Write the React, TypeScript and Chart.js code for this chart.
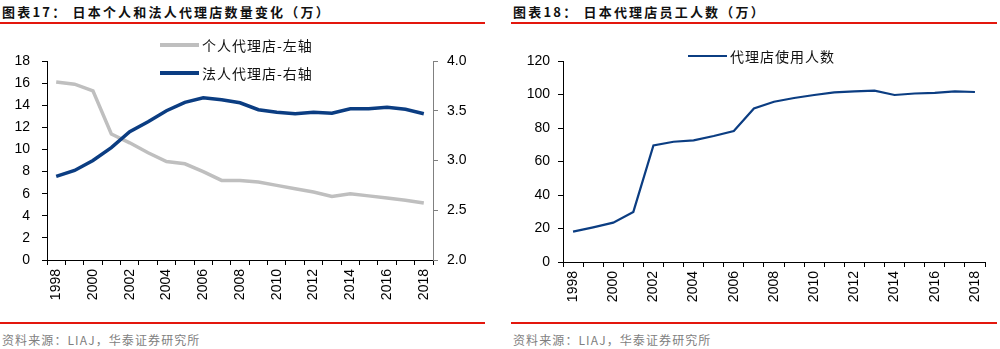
import React, { useEffect, useRef } from "react";
import { Chart, registerables } from "chart.js";

Chart.register(...registerables);

const years = [
  "1998", "1999", "2000", "2001", "2002", "2003", "2004", "2005", "2006", "2007", "2008",
  "2009", "2010", "2011", "2012", "2013", "2014", "2015", "2016", "2017", "2018",
];
const individualAgencies = [16.1, 15.9, 15.3, 11.4, 10.6, 9.7, 8.9, 8.7, 8.0, 7.2, 7.2, 7.05, 6.75, 6.45, 6.15, 5.75, 6.0, 5.8, 5.6, 5.4, 5.15];
const corporateAgencies = [2.84, 2.9, 3.0, 3.13, 3.29, 3.39, 3.5, 3.585, 3.63, 3.61, 3.58, 3.51, 3.485, 3.47, 3.485, 3.475, 3.52, 3.52, 3.535, 3.515, 3.47];
const agencyEmployees = [18.1, 20.7, 23.5, 29.9, 69.6, 71.8, 72.6, 75.2, 78.2, 91.7, 95.7, 97.9, 99.7, 101.3, 101.9, 102.3, 99.7, 100.6, 101.0, 101.9, 101.5];

const leftTicks = { min: 0, max: 18, step: 2 };
const rightTicks = { min: 2, max: 4, step: 0.5 };
const employeeTicks = { min: 0, max: 120, step: 20 };

const GRAY = "#BFBFBF";
const NAVY = "#0B3D82";
const RED = "#E3170D";
const CJK = '"Noto Sans CJK SC", "Noto Sans", sans-serif';
const TICK_FONT = { family: '"Liberation Sans", Arial, sans-serif', size: 14 };

function xAxis(height: number) {
  return {
    type: "category" as const,
    offset: true,
    afterFit: (s: any) => { s.height = height; },
    grid: { offset: true, drawOnChartArea: false, drawTicks: true, tickLength: 5, color: "#000" },
    border: { display: true, color: "#000", width: 1 },
    ticks: {
      autoSkip: false,
      minRotation: 90,
      maxRotation: 90,
      padding: 4,
      color: "#000",
      font: TICK_FONT,
      callback: (_v: any, i: number) => (i % 2 === 0 ? years[i] : ""),
    },
  };
}

function yAxis(pos: "left" | "right", t: { min: number; max: number; step: number }, width: number, pad: number, borderColor: string, decimals: number) {
  return {
    position: pos,
    min: t.min,
    max: t.max,
    afterFit: (s: any) => { s.width = width; },
    grid: { drawOnChartArea: false, drawTicks: true, tickLength: 5, color: borderColor },
    border: { display: true, color: borderColor, width: 1 },
    ticks: {
      stepSize: t.step,
      padding: pad,
      color: "#000",
      font: TICK_FONT,
      callback: (v: any) => Number(v).toFixed(decimals),
    },
  };
}

function LeftChart() {
  const ref = useRef<HTMLCanvasElement>(null);
  useEffect(() => {
    const chart = new Chart(ref.current!, {
      type: "line",
      data: {
        labels: years,
        datasets: [
          {
            label: "个人代理店-左轴",
            data: individualAgencies,
            borderColor: GRAY,
            borderWidth: 3.5,
            pointRadius: 0,
            tension: 0,
            yAxisID: "y",
            order: 1,
          },
          {
            label: "法人代理店-右轴",
            data: corporateAgencies,
            borderColor: NAVY,
            borderWidth: 3.5,
            pointRadius: 0,
            tension: 0,
            yAxisID: "y1",
            order: 0,
          },
        ],
      },
      options: {
        animation: false,
        responsive: false,
        maintainAspectRatio: false,
        layout: { padding: { top: 61, left: 0, right: 0, bottom: 0 } },
        plugins: { legend: { display: false }, tooltip: { enabled: false } },
        scales: {
          x: xAxis(60),
          y: yAxis("left", leftTicks, 47, 12, "#000", 0),
          y1: yAxis("right", rightTicks, 57, 9, "#808080", 1),
        } as any,
      },
    });
    return () => chart.destroy();
  }, []);
  return <canvas ref={ref} width={490} height={320} style={{ position: "absolute", left: 0, top: 0, width: 490, height: 320 }} />;
}

function RightChart() {
  const ref = useRef<HTMLCanvasElement>(null);
  useEffect(() => {
    const chart = new Chart(ref.current!, {
      type: "line",
      data: {
        labels: years,
        datasets: [
          {
            label: "代理店使用人数",
            data: agencyEmployees,
            borderColor: NAVY,
            borderWidth: 2.2,
            pointRadius: 0,
            tension: 0,
          },
        ],
      },
      options: {
        animation: false,
        responsive: false,
        maintainAspectRatio: false,
        layout: { padding: { top: 61, left: 0, right: 15, bottom: 0 } },
        plugins: { legend: { display: false }, tooltip: { enabled: false } },
        scales: {
          x: xAxis(58),
          y: yAxis("left", employeeTicks, 63, 8, "#000", 0),
        } as any,
      },
    });
    return () => chart.destroy();
  }, []);
  return <canvas ref={ref} width={500} height={320} style={{ position: "absolute", left: 500, top: 0, width: 500, height: 320 }} />;
}

const abs = (s: React.CSSProperties): React.CSSProperties => ({ position: "absolute", ...s });

function Legend({ x, y, color, text, width }: { x: number; y: number; color: string; text: string; width: number }) {
  return (
    <>
      <div style={abs({ left: x, top: y - width / 2, width: 39, height: width, background: color })} />
      <div style={abs({ left: x + 42, top: y - 10, height: 20, lineHeight: "20px", fontFamily: CJK, fontSize: 14, letterSpacing: 1, color: "#111", whiteSpace: "nowrap" })}>{text}</div>
    </>
  );
}

export default function App() {
  const titleStyle: React.CSSProperties = { fontFamily: CJK, fontSize: 13, fontWeight: 700, letterSpacing: 2.2, color: "#111", whiteSpace: "nowrap", lineHeight: "16px" };
  const srcStyle: React.CSSProperties = { fontFamily: CJK, fontSize: 12, letterSpacing: 1.1, color: "#7F7F7F", whiteSpace: "nowrap", lineHeight: "16px" };
  return (
    <div style={{ position: "fixed", left: 0, top: 0, width: 1000, height: 349, background: "#fff", overflow: "hidden" }}>
      <div style={abs({ left: 2, top: 4, ...titleStyle })}>图表17： 日本个人和法人代理店数量变化（万）</div>
      <div style={abs({ left: 513, top: 4, ...titleStyle })}>图表18： 日本代理店员工人数（万）</div>
      <div style={abs({ left: 0, top: 22, width: 485, height: 2, background: RED })} />
      <div style={abs({ left: 511, top: 22, width: 486, height: 2, background: RED })} />
      <LeftChart />
      <RightChart />
      <Legend x={160} y={45} color={GRAY} text="个人代理店-左轴" width={4} />
      <Legend x={160} y={73} color={NAVY} text="法人代理店-右轴" width={4} />
      <Legend x={688} y={56} color={NAVY} text="代理店使用人数" width={2.5} />
      <div style={abs({ left: 0, top: 322, width: 485, height: 2, background: RED })} />
      <div style={abs({ left: 511, top: 322, width: 486, height: 2, background: RED })} />
      <div style={abs({ left: 2, top: 332, ...srcStyle })}>资料来源：LIAJ，华泰证券研究所</div>
      <div style={abs({ left: 513, top: 332, ...srcStyle })}>资料来源：LIAJ，华泰证券研究所</div>
    </div>
  );
}
